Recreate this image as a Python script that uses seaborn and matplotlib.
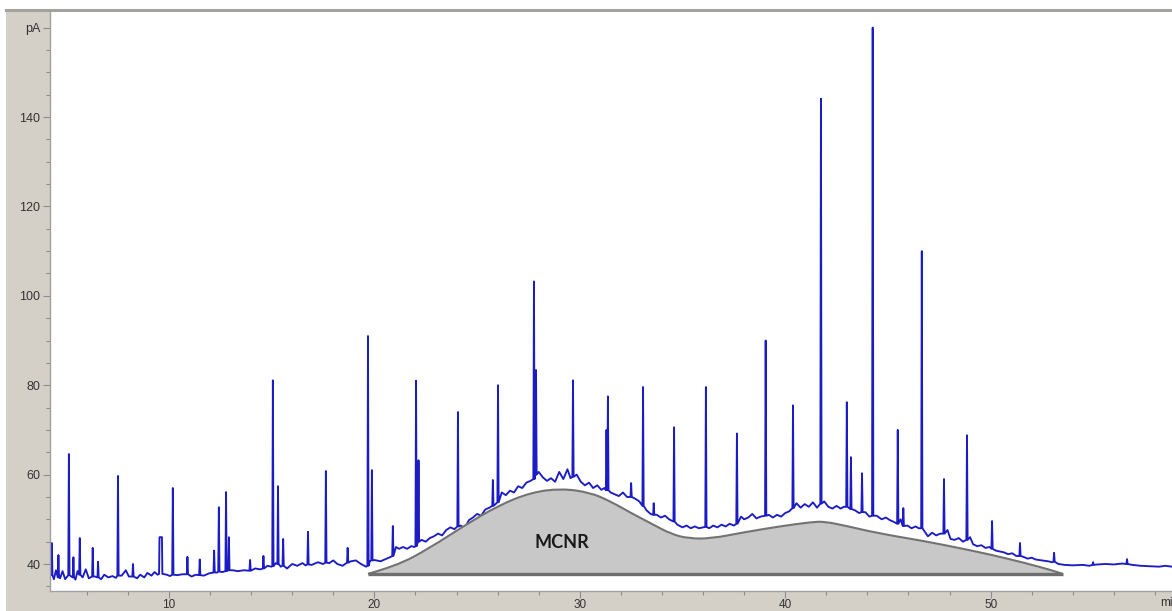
import numpy as np
import pandas as pd
import matplotlib
matplotlib.use("Agg")
import matplotlib.pyplot as plt
from matplotlib.path import Path
from matplotlib.patches import PathPatch, Rectangle
from matplotlib.lines import Line2D
from matplotlib.ticker import MultipleLocator
import seaborn as sns

# ---- chromatogram baseline (retention time in min, signal in pA) ----
base_time = [4.21, 4.40, 4.50, 4.70, 4.82, 4.95, 5.25, 5.45, 5.55, 5.80, 5.95, 6.10,
             6.40, 6.70, 6.85, 7.05, 7.25, 7.42, 7.70, 7.90, 8.05, 8.45, 8.60, 8.80,
             8.95, 9.15, 9.30, 9.45, 9.52, 9.54, 9.66, 9.68, 9.90, 10.05, 10.40, 10.65,
             11.10, 11.30, 11.70, 11.95, 12.35, 12.60, 13.10, 13.35, 13.65, 14.20, 14.45,
             14.80, 14.98, 15.20, 15.45, 15.75, 16.00, 16.25, 16.50, 16.65, 16.95, 17.25,
             17.50, 17.80, 18.00, 18.20, 18.45, 18.85, 19.10, 19.35, 19.60, 19.78, 20.00,
             20.30, 20.60, 20.80, 21.05, 21.20, 21.40, 21.60, 21.80, 21.95, 22.30, 22.50,
             22.70, 22.90, 23.10, 23.30, 23.50, 23.70, 23.90, 24.20, 24.40, 24.60, 24.80,
             25.00, 25.20, 25.40, 25.60, 25.90, 26.20, 26.40, 26.60, 26.80, 27.00, 27.20,
             27.40, 27.60, 28.00, 28.20, 28.40, 28.60, 28.80, 29.00, 29.20, 29.40, 29.55,
             29.85, 30.05, 30.25, 30.45, 30.65, 30.85, 31.05, 31.20, 31.50, 31.70, 31.90,
             32.10, 32.30, 32.70, 32.90, 33.25, 33.45, 33.75, 33.95, 34.15, 34.35, 34.75,
             35.00, 35.20, 35.40, 35.60, 35.80, 36.00, 36.30, 36.50, 36.70, 36.90, 37.10,
             37.30, 37.50, 37.85, 38.00, 38.20, 38.40, 38.60, 38.80, 39.20, 39.40, 39.60,
             39.80, 40.00, 40.20, 40.55, 40.75, 40.95, 41.15, 41.35, 41.55, 41.90, 42.10,
             42.30, 42.50, 42.70, 42.85, 43.40, 43.60, 43.90, 44.10, 44.45, 44.70, 44.90,
             45.10, 45.30, 45.62, 45.95, 46.15, 46.35, 46.50, 46.80, 46.95, 47.15, 47.35,
             47.55, 47.90, 48.05, 48.25, 48.45, 48.65, 49.00, 49.15, 49.35, 49.55, 49.75,
             49.95, 50.25, 50.45, 50.65, 50.85, 51.05, 51.25, 51.60, 51.80, 52.00, 52.20,
             52.50, 52.80, 53.00, 53.30, 53.60, 54.00, 54.50, 54.80, 55.20, 55.60, 56.00,
             56.40, 56.90, 57.30, 57.80, 58.20, 58.50, 58.83]
base_pa = [37.8, 36.6, 38.6, 36.8, 38.4, 36.6, 37.2, 36.5, 38.4, 37.0, 38.8, 36.8,
           37.2, 36.6, 37.6, 37.0, 37.3, 36.9, 37.4, 38.6, 37.2, 36.8, 37.6, 37.0,
           38.0, 37.4, 38.2, 37.6, 37.8, 46.0, 46.0, 37.8, 37.6, 37.3, 37.5, 37.7,
           37.2, 37.6, 37.4, 37.9, 38.1, 38.2, 38.6, 38.4, 38.6, 39.0, 38.8,
           39.6, 39.4, 40.2, 39.4, 39.0, 40.0, 39.6, 40.2, 39.7, 39.8, 40.4,
           40.0, 40.2, 40.8, 40.0, 39.6, 40.6, 40.8, 40.0, 39.4, 40.6, 40.9,
           40.6, 41.2, 41.6, 43.8, 43.4, 43.8, 43.4, 44.0, 43.8, 45.4, 45.0,
           45.8, 46.2, 46.8, 46.4, 47.6, 48.2, 47.8, 48.6, 48.0, 49.8, 50.4,
           51.2, 50.8, 52.2, 52.6, 53.4, 56.0, 55.4, 56.4, 56.0, 57.4, 57.0,
           58.2, 58.6, 60.6, 59.4, 58.6, 59.2, 58.4, 60.6, 59.0, 61.2, 59.2,
           60.0, 58.4, 57.6, 58.2, 57.0, 57.6, 56.6, 57.0, 56.0, 55.6, 55.2,
           56.0, 55.0, 54.6, 54.0, 52.0, 51.2, 51.0, 50.4, 50.8, 50.0, 48.8,
           48.2, 48.6, 48.0, 48.4, 48.0, 48.2, 48.0, 48.6, 48.2, 48.8, 48.4,
           49.0, 48.6, 50.6, 50.0, 50.4, 51.2, 50.2, 50.6, 51.0, 50.4, 51.0,
           50.6, 51.4, 51.8, 53.6, 52.6, 53.4, 52.8, 53.8, 52.6, 54.0, 52.8,
           52.4, 53.0, 52.4, 52.8, 52.0, 51.4, 51.6, 50.6, 50.8, 50.0, 50.4,
           49.8, 49.4, 50.0, 48.6, 48.0, 48.4, 48.0, 47.2, 46.2, 47.0, 46.4,
           46.8, 47.6, 45.6, 45.4, 45.8, 45.0, 46.0, 44.4, 44.0, 44.2, 43.6,
           43.8, 43.0, 42.8, 42.6, 42.2, 42.4, 41.8, 41.6, 41.2, 41.4, 41.0,
           40.8, 40.6, 40.4, 40.0, 39.8, 39.7, 39.8, 39.6, 39.9, 40.0, 39.9,
           40.1, 39.8, 39.6, 39.5, 39.4, 39.6, 39.4]

# ---- resolved peaks: apex time, apex signal, signal at the peak foot ----
peak_time = [4.30, 4.62, 5.13, 5.35, 5.66, 6.29, 6.55, 7.52, 8.25, 10.19, 10.90, 11.50,
             12.20, 12.43, 12.78, 12.92, 13.95, 14.60, 15.06, 15.31, 15.56, 16.77, 17.64,
             18.70, 19.69, 19.88, 20.90, 22.03, 22.15, 24.07, 25.77, 26.02, 27.77, 27.87,
             29.67, 31.30, 31.37, 32.50, 33.08, 33.60, 34.59, 36.14, 37.65, 39.05, 40.38,
             41.74, 43.00, 43.20, 43.74, 44.26, 45.48, 45.75, 46.65, 47.73, 48.85, 50.07,
             51.43, 53.09, 54.99, 56.64]
peak_apex = [44.7, 42.0, 64.6, 41.5, 45.8, 43.6, 40.5, 59.7, 40.0, 57.0, 41.6, 41.0,
             43.0, 52.7, 56.1, 46.0, 40.9, 41.8, 81.1, 57.4, 45.6, 47.2, 60.8,
             43.6, 91.0, 61.0, 48.5, 81.0, 63.2, 74.0, 58.8, 80.0, 103.2, 83.4,
             81.1, 70.0, 77.5, 58.1, 79.6, 53.6, 70.6, 79.6, 69.2, 90.0, 75.5,
             144.1, 76.2, 63.9, 60.3, 160.0, 70.0, 52.5, 110.0, 59.0, 68.8, 49.6,
             44.7, 42.5, 40.4, 41.1]
peak_foot = [37.5, 37.0, 37.5, 37.0, 37.6, 37.2, 37.0, 37.4, 37.2, 37.6, 37.7, 37.5,
             38.1, 38.3, 38.4, 38.6, 38.5, 39.0, 39.5, 40.0, 39.6, 39.9, 40.3,
             40.3, 39.6, 40.8, 41.8, 44.0, 45.0, 48.4, 53.0, 53.8, 59.0, 60.0,
             59.5, 56.5, 56.5, 55.0, 53.0, 51.0, 49.5, 48.3, 49.0, 50.8, 52.5,
             53.5, 52.8, 52.3, 51.6, 50.8, 49.0, 48.5, 48.0, 46.8, 45.4, 43.4,
             41.8, 40.5, 39.8, 40.0]

# ---- unresolved complex mixture hump (outline knots) ----
mcnr_time = [19.69, 21.1, 22.7, 24.35, 26.0, 27.6, 29.1, 30.5, 31.5, 32.5, 33.5, 34.45,
             35.3, 36.4, 38.0, 39.7, 41.3, 41.9, 42.9, 44.5, 46.8, 48.45, 50.1, 51.7,
             52.9, 53.5]
mcnr_pa = [37.8, 39.6, 43.6, 48.5, 53.0, 56.0, 56.9, 56.0, 54.0, 51.4, 49.0, 46.7,
           45.7, 45.7, 47.1, 48.4, 49.4, 49.5, 48.6, 46.9, 45.1, 43.6, 42.0, 40.2,
           38.7, 37.8]
mcnr_floor = 37.8
mcnr_label = "MCNR"

x_ticks = [10, 20, 30, 40, 50]
y_ticks = [40, 60, 80, 100, 120, 140, 160]
y_tick_labels = ["40", "60", "80", "100", "120", "140", "pA"]
x_unit = "min"

# ---- assemble the detector trace from baseline and peaks ----
HALF_WIDTH = 0.03
pt = np.array(peak_time)
keep = [i for i, t in enumerate(base_time) if np.min(np.abs(pt - t)) > HALF_WIDTH + 0.005]
rows = [(base_time[i], base_pa[i]) for i in keep]
for t, a, f in zip(peak_time, peak_apex, peak_foot):
    rows += [(t - HALF_WIDTH, f), (t, a), (t + HALF_WIDTH, f)]
trace = pd.DataFrame(rows, columns=["time", "pA"]).sort_values("time").reset_index(drop=True)

# ---- figure ----
W, H = 1172, 611
plt.rcParams["font.family"] = ["Liberation Sans", "DejaVu Sans"]
fig = plt.figure(figsize=(W / 100, H / 100), dpi=100, facecolor="white")

# gray instrument panel behind the plot
panel_col = "#d4d0c8"
fig.patches.append(Rectangle((6 / W, 0), 1 - 6 / W, (H - 11) / H, transform=fig.transFigure,
                             facecolor=panel_col, edgecolor="none", zorder=-10))
fig.lines.append(Line2D([6 / W, 1], [(H - 10) / H, (H - 10) / H], transform=fig.transFigure,
                        color="#a4a29c", lw=2.2, zorder=-5))

ax = fig.add_axes([50 / W, (H - 591) / H, (W - 50) / W, (591 - 12) / H])
ax.set_facecolor("white")

sns.lineplot(data=trace, x="time", y="pA", estimator=None, sort=False,
             color="#1c1cc4", lw=1.35, ax=ax, zorder=2)

# hump: smooth outline through knot midpoints
pts = np.column_stack([mcnr_time, mcnr_pa])
verts = [tuple(pts[0])]
codes = [Path.MOVETO]
for i in range(1, len(pts) - 1):
    mid = (pts[i] + pts[i + 1]) / 2
    verts += [tuple(pts[i]), tuple(mid)]
    codes += [Path.CURVE3, Path.CURVE3]
verts.append(tuple(pts[-1]))
codes.append(Path.LINETO)
outline = Path(verts, codes)
fill_path = Path(verts + [(mcnr_time[-1], mcnr_floor), (mcnr_time[0], mcnr_floor), verts[0]],
                 codes + [Path.LINETO, Path.LINETO, Path.CLOSEPOLY])
ax.add_patch(PathPatch(fill_path, facecolor="#c8c8c8", edgecolor="none", zorder=3))
ax.add_patch(PathPatch(outline, facecolor="none", edgecolor="#737373", lw=1.5, zorder=4))
ax.plot([mcnr_time[0], mcnr_time[-1]], [mcnr_floor, mcnr_floor], color="#6e6e6e",
        lw=2.4, solid_capstyle="butt", zorder=4)
ax.text(29.13, 44.9, mcnr_label, ha="center", va="center", fontsize=13,
        fontweight="bold", family=["Lato", "DejaVu Sans"], color="#1a1a1a", zorder=5)

ax.set_xlim(4.21, 58.83)
ax.set_ylim(33.96, 163.5)
ax.set_xticks(x_ticks)
ax.set_xticklabels([str(v) for v in x_ticks])
ax.xaxis.set_minor_locator(MultipleLocator(2))
ax.set_yticks(y_ticks)
ax.set_yticklabels(y_tick_labels)
ax.yaxis.set_minor_locator(MultipleLocator(5))
ax.tick_params(which="both", direction="out", color="#8c8c8c", width=0.8,
               labelcolor="#333333")
ax.tick_params(axis="y", labelsize=9, pad=2)
ax.tick_params(axis="x", labelsize=8.5, pad=0.8)
ax.tick_params(which="major", length=5)
ax.tick_params(which="minor", length=3)
ax.set_xlabel("")
ax.set_ylabel("")
for side in ("top", "right"):
    ax.spines[side].set_visible(False)
for side in ("left", "bottom"):
    ax.spines[side].set_color("#a0a0a0")
    ax.spines[side].set_linewidth(1.0)

# time unit sits at the right end of the time axis, running past the frame edge
fig.text(1160 / W, 1 - 603 / H, x_unit, ha="left", va="center", fontsize=8.5, color="#333333")

fig.savefig("out.png", dpi=100, facecolor=fig.get_facecolor())
